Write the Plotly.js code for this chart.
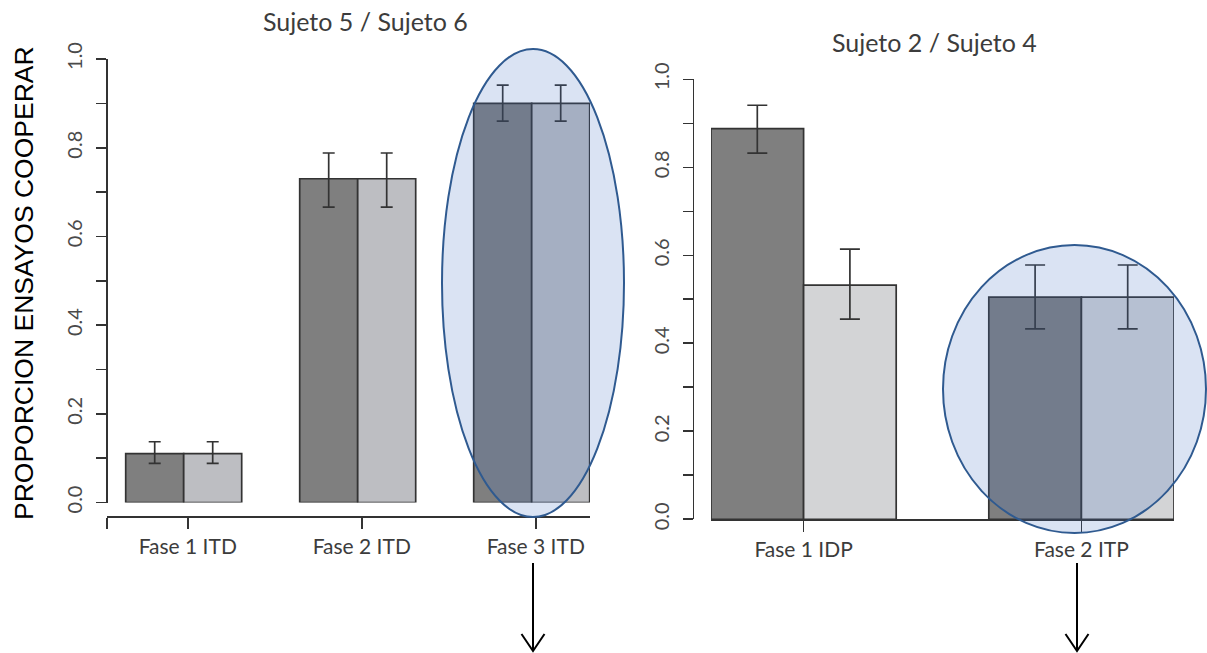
<!DOCTYPE html>
<html>
<head>
<meta charset="utf-8">
<script src="https://cdn.plot.ly/plotly-3.0.1.min.js"></script>
<style>
  html, body { margin: 0; padding: 0; background: #fff; }
  #chart { width: 1207px; height: 653px; }
</style>
</head>
<body>
<div id="chart"></div>
<script>
// Panel A: Sujeto 5 / Sujeto 6
const categoriesA = ['Fase 1 ITD', 'Fase 2 ITD', 'Fase 3 ITD'];
const sujeto5 = [0.11, 0.73, 0.90];
const sujeto5Hi = [0.137, 0.788, 0.941];
const sujeto5Lo = [0.088, 0.666, 0.860];
const sujeto6 = [0.11, 0.73, 0.90];
const sujeto6Hi = [0.137, 0.788, 0.941];
const sujeto6Lo = [0.088, 0.666, 0.860];

// Panel B: Sujeto 2 / Sujeto 4
const categoriesB = ['Fase 1 IDP', 'Fase 2 ITP'];
const sujeto2 = [0.888, 0.505];
const sujeto2Hi = [0.941, 0.578];
const sujeto2Lo = [0.832, 0.433];
const sujeto4 = [0.532, 0.505];
const sujeto4Hi = [0.614, 0.578];
const sujeto4Lo = [0.455, 0.433];

const yTickVals = [0, 0.2, 0.4, 0.6, 0.8, 1.0];
const yTickText = ['0.0', '0.2', '0.4', '0.6', '0.8', '1.0'];

const W = 1207, H = 653;
const px = x => x / W;
const py = y => 1 - y / H;

const DARK = '#7f7f7f';
const LIGHT_A = '#bdbec2';
const LIGHT_B = '#d3d4d6';
const EDGE = '#333333';
const TXT = '#4a4a4a';
const LABEL_FONT = 'Lato, "Open Sans", sans-serif';

// grouped bars: unit-width bars side by side, one unit gap between groups
const leftPos = cats => cats.map((c, i) => 3 * i + 1.5);
const rightPos = cats => cats.map((c, i) => 3 * i + 2.5);
const groupMid = cats => cats.map((c, i) => 3 * i + 2);

function barTrace(xs, vals, hi, lo, color, xa, ya, capW) {
  return {
    type: 'bar', x: xs, y: vals, width: 1,
    xaxis: xa, yaxis: ya,
    marker: { color: color, line: { color: EDGE, width: 1.7 } },
    error_y: {
      type: 'data', symmetric: false,
      array: hi.map((h, i) => h - vals[i]),
      arrayminus: lo.map((l, i) => vals[i] - l),
      color: EDGE, thickness: 1.7, width: capW
    },
    showlegend: false, hoverinfo: 'skip'
  };
}

const data = [
  barTrace(leftPos(categoriesA), sujeto5, sujeto5Hi, sujeto5Lo, DARK, 'x', 'y', 6),
  barTrace(rightPos(categoriesA), sujeto6, sujeto6Hi, sujeto6Lo, LIGHT_A, 'x', 'y', 6),
  barTrace(leftPos(categoriesB), sujeto2, sujeto2Hi, sujeto2Lo, DARK, 'x2', 'y2', 10),
  barTrace(rightPos(categoriesB), sujeto4, sujeto4Hi, sujeto4Lo, LIGHT_B, 'x2', 'y2', 10)
];

// pixel geometry of the two panels
const A = { axisX: 106, x0: 107, x1: 590, yTop: 59, yZero: 502.5, barLeft: 125.7, unit: 58.0, xAxisY: 516 };
const B = { axisX: 692.7, x0: 711, x1: 1174, yTop: 79.3, yZero: 519.3, barLeft: 711, unit: 92.6 };

const toUnitsA = p => 1 + (p - A.barLeft) / A.unit;
const toUnitsB = p => 1 + (p - B.barLeft) / B.unit;

const yCommon = {
  range: [0, 1], showgrid: false, zeroline: false, fixedrange: true,
  showline: true, linecolor: EDGE, linewidth: 1.6,
  ticks: 'outside', ticklen: 10, tickwidth: 1.6, tickcolor: EDGE,
  tickvals: yTickVals, ticktext: yTickText, tickangle: -90,
  ticklabelstandoff: 6,
  tickfont: { family: LABEL_FONT, size: 20, color: TXT },
  minor: { tickvals: [0.1, 0.3, 0.5, 0.7, 0.9], ticks: 'outside', ticklen: 10, tickwidth: 1.6, tickcolor: EDGE }
};

const tickShiftA = 0.07;
const aRange = [toUnitsA(A.x0), toUnitsA(A.x1)];

const layout = {
  width: W, height: H,
  margin: { l: 0, r: 0, t: 0, b: 0 },
  paper_bgcolor: '#ffffff', plot_bgcolor: 'rgba(0,0,0,0)',
  bargap: 0,
  xaxis: {
    domain: [px(A.x0), px(A.x1)], range: aRange,
    anchor: 'free', position: py(A.xAxisY),
    showgrid: false, zeroline: false, fixedrange: true,
    showline: true, linecolor: EDGE, linewidth: 1.6,
    ticks: 'outside', ticklen: 11, tickwidth: 1.6, tickcolor: EDGE,
    tickvals: [aRange[0] + 0.005].concat(groupMid(categoriesA).map(v => v + tickShiftA)),
    ticktext: [''].concat(categoriesA),
    tickfont: { family: LABEL_FONT, size: 21, color: '#3c3c3c' }
  },
  yaxis: Object.assign({}, yCommon, {
    domain: [py(A.yZero), py(A.yTop)], anchor: 'free', position: px(A.axisX)
  }),
  xaxis2: {
    domain: [px(B.x0), px(B.x1)], range: [toUnitsB(B.x0), toUnitsB(B.x1)],
    anchor: 'y2',
    showgrid: false, zeroline: false, fixedrange: true,
    showline: true, linecolor: EDGE, linewidth: 1.6,
    ticks: 'outside', ticklen: 11, tickwidth: 1.6, tickcolor: EDGE,
    tickvals: groupMid(categoriesB), ticktext: categoriesB,
    tickfont: { family: LABEL_FONT, size: 21, color: '#3c3c3c' }
  },
  yaxis2: Object.assign({}, yCommon, {
    domain: [py(B.yZero), py(B.yTop)], anchor: 'free', position: px(B.axisX)
  }),
  shapes: [
    // highlight around Fase 3 ITD
    { type: 'circle', xref: 'paper', yref: 'paper', layer: 'above',
      x0: px(442), x1: px(624), y0: py(517), y1: py(49),
      fillcolor: 'rgba(68,114,196,0.2)', line: { color: '#2f5a90', width: 2 } },
    // highlight around Fase 2 ITP
    { type: 'circle', xref: 'paper', yref: 'paper', layer: 'above',
      x0: px(943), x1: px(1206), y0: py(533), y1: py(245),
      fillcolor: 'rgba(68,114,196,0.2)', line: { color: '#2f5a90', width: 2 } },
    // downward arrows
    { type: 'path', xref: 'paper', yref: 'paper',
      path: `M${px(533)},${py(563)} L${px(533)},${py(651)} M${px(521.5)},${py(634)} L${px(533)},${py(651)} L${px(544.5)},${py(634)}`,
      line: { color: '#000', width: 2 } },
    { type: 'path', xref: 'paper', yref: 'paper',
      path: `M${px(1077)},${py(563)} L${px(1077)},${py(651)} M${px(1065.5)},${py(634)} L${px(1077)},${py(651)} L${px(1088.5)},${py(634)}`,
      line: { color: '#000', width: 2 } }
  ],
  annotations: [
    { text: 'Sujeto 5 / Sujeto 6', xref: 'paper', yref: 'paper', x: px(365), y: py(21),
      xanchor: 'center', yanchor: 'middle', showarrow: false,
      font: { family: LABEL_FONT, size: 25, color: '#3c3c3c' } },
    { text: 'Sujeto 2 / Sujeto 4', xref: 'paper', yref: 'paper', x: px(934), y: py(42),
      xanchor: 'center', yanchor: 'middle', showarrow: false,
      font: { family: LABEL_FONT, size: 25, color: '#3c3c3c' } },
    { text: 'PROPORCION ENSAYOS COOPERAR', xref: 'paper', yref: 'paper', x: px(24), y: py(283),
      xanchor: 'center', yanchor: 'middle', textangle: -90, showarrow: false,
      font: { family: '"Liberation Sans", Arial, sans-serif', size: 26.5, color: '#000' } }
  ]
};

Plotly.newPlot('chart', data, layout, { displayModeBar: false, staticPlot: true });
</script>
</body>
</html>
